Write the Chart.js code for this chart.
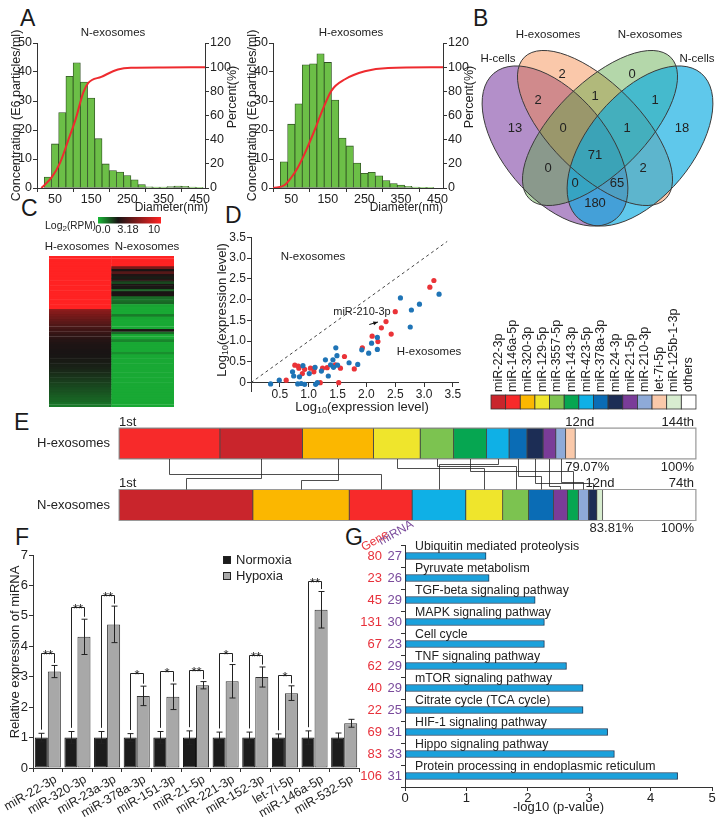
<!DOCTYPE html>
<html><head><meta charset="utf-8">
<script src="https://cdn.jsdelivr.net/npm/chart.js@4.4.1/dist/chart.umd.min.js"></script>
<style>
html,body{margin:0;padding:0;background:#fff;}
#wrap{position:relative;width:724px;height:824px;overflow:hidden;background:#fff;}
#wrap canvas{position:absolute;}
.pl{position:absolute;font-family:"Liberation Sans",Arial,sans-serif;font-size:23px;line-height:24px;color:#1a1a1a;}
</style></head>
<body><div id="wrap">
<div class="pl" style="left:20px;top:6px">A</div>
<div class="pl" style="left:473px;top:6px">B</div>
<div class="pl" style="left:21px;top:196px">C</div>
<div class="pl" style="left:225px;top:203px">D</div>
<div class="pl" style="left:14px;top:410px">E</div>
<div class="pl" style="left:15px;top:525px">F</div>
<div class="pl" style="left:345px;top:525px">G</div>
</div>
<script>
// ================= DATA =================
// A: particle size distribution (bin centres, nm) and concentrations (E6 particles/ml)
const binCenters=[30,50,70,90,110,130,150,170,190,210,230,250,270,290,310,330,350,370,390,410,430,450];
const nConc=[3.8,15.2,26,38.5,43.2,36.5,31,17,8.3,6,5.5,4.3,2.8,1.2,0.4,0.3,0.3,0.5,0.7,0.6,0.3,0.1];
const hConc=[9,22,29,42.5,42.8,46.3,43.3,30.3,17.2,14.5,8.6,5.1,5.4,4.2,2.6,1.5,1.0,0.6,0.3,0.1,0.05,0];
const nCumX=[12,41,64,87,107,128,142,178,224,260,350,465];
const nCumY=[0,9,21,40,57,79,87,92,98,99.5,99.8,100];
const hCumX=[0,32,50,68,86,114,132,160,197,251,315,465];
const hCumY=[0,2.5,8.7,17,28,48,62,80.6,90,96.6,99.4,100];
const diamTicks=[50,150,250,350,450];

// B: Venn
const vennSets=['H-cells','H-exosomes','N-exosomes','N-cells'];
const vennCounts=[13,2,0,18,2,1,1,0,1,71,0,2,0,65,180];

// C: heatmap log2(RPM)
const heatCols=['H-exosomes','N-exosomes'];
const heatH=[10,10,10,10,10,10,10,10,10,10,10,10,10,10,10,10,10,10,10,10,10,
 6.6,6.3,6.0,5.7,5.4,5.1,4.8,4.5,4.3,4.1,3.9,3.7,3.5,
 3.4,3.3,3.3,3.2,3.2,3.15,3.1,3.05,3.0,2.95,2.9,
 2.8,2.7,2.6,2.5,2.4,2.3,2.2,2.1,2.0,1.9,1.8,1.7,1.6,1.4,1.2];
const heatN=[10,10,10,10,6,3.2,5,3.4,3.0,3.6,2.2,3.3,3.1,1.8,3.2,3.3,1.5,1.4,1.6,0.4,
 0.3,0.3,0.3,1.2,0.4,0.3,0.3,0.3,0.3,3.3,1.5,0.3,0.3,1.0,0.3,0.3,0.3,0.3,0.8,0.3,
 0.3,0.3,0.3,0.3,0.3,0.3,0.3,0.3,0.3,0.3,0.3,0.3,0.3,0.3,0.3,0.3,0.3,0.3,0.3,0.3];

// D: scatter log10(expression level)
const dBlueX=[0.34,0.49,0.72,0.74,0.81,0.84,0.87,0.90,0.93,1.01,1.11,1.12,1.15,1.22,1.29,1.34,1.38,1.42,1.43,1.47,1.49,1.50,1.70,1.85,1.92,2.04,2.09,2.19,2.19,2.59,2.78,2.76,2.92,3.26];
const dBlueY=[-0.03,0.06,0.26,0.16,-0.03,0.14,-0.02,0.41,-0.04,0.22,0.37,-0.04,0.0,0.28,0.55,0.16,0.43,0.55,0.37,0.84,0.65,0.42,0.48,0.44,0.79,0.71,0.95,1.09,0.80,2.04,1.75,1.34,1.89,2.13];
const dRedX=[0.61,0.76,0.82,0.83,0.89,0.93,1.03,1.09,1.10,1.20,1.24,1.32,1.46,1.52,1.55,1.62,1.79,1.93,2.10,2.20,2.26,2.34,2.43,2.50,3.10,3.17];
const dRedY=[0.06,0.42,0.40,0.35,0.22,0.32,0.35,0.26,0.35,0.0,0.35,0.36,0.43,0.0,0.35,0.63,0.33,0.84,1.12,0.99,1.32,1.47,1.17,1.71,2.30,2.46];
const dDiag=[0,3.4];
const dTicks=[0,0.5,1,1.5,2,2.5,3,3.5];

// E: top-12 miRNA composition (%)
const mirNames=['miR-22-3p','miR-146a-5p','miR-320-3p','miR-129-5p','miR-3557-5p','miR-143-3p','miR-423-5p','miR-378a-3p','miR-24-3p','miR-21-5p','miR-210-3p','let-7i-5p','miR-125b-1-3p','others'];
const mirColors=['#c9252c','#f72a2a','#fbb700','#efe52c','#7cc350','#06a651','#0fb0e6','#0a6cb5','#1c2d55','#7a3c98','#8eaad8','#fac9aa','#d8edd0','#ffffff'];
const eCats=['H-exosomes','N-exosomes'];
const hOrder=['miR-146a-5p','miR-22-3p','miR-320-3p','miR-129-5p','miR-3557-5p','miR-143-3p','miR-423-5p','miR-378a-3p','miR-24-3p','miR-21-5p','miR-210-3p','let-7i-5p','others'];
const hPct=[17.5,14.3,12.3,8.1,5.8,5.7,3.9,3.1,2.8,2.2,1.7,1.67,20.93];
const nOrder=['miR-22-3p','miR-320-3p','miR-146a-5p','miR-423-5p','miR-129-5p','miR-3557-5p','miR-378a-3p','miR-21-5p','miR-143-3p','miR-210-3p','miR-24-3p','miR-125b-1-3p','others'];
const nPct=[23.2,16.7,10.9,9.3,6.4,4.5,4.3,2.4,1.9,1.8,1.4,1.01,16.19];
const eRankLabels={first:'1st',top:'12nd',hLast:'144th',nLast:'74th'};

// F: qPCR
const fCats=['miR-22-3p','miR-320-3p','miR-23a-3p','miR-378a-3p','miR-151-3p','miR-21-5p','miR-221-3p','miR-152-3p','let-7i-5p','miR-146a-5p','miR-532-5p'];
const fNorm=[1,1,1,1,1,1,1,1,1,1,1];
const fNormErr=[0.14,0.2,0.2,0.13,0.2,0.22,0.18,0.18,0.12,0.22,0.15];
const fHyp=[3.17,4.31,4.72,2.37,2.34,2.72,2.85,2.99,2.46,5.2,1.47];
const fHypErr=[0.2,0.58,0.6,0.32,0.42,0.12,0.55,0.33,0.24,0.6,0.13];
const fSig=['**','**','**','*','*','**','*','**','*','**',''];
const fBracket=[3.77,5.3,5.69,3.11,3.19,3.23,3.77,3.71,3.06,6.16,null];

// G: KEGG
const gPaths=['Ubiquitin mediated proteolysis','Pyruvate metabolism','TGF-beta signaling pathway','MAPK signaling pathway','Cell cycle','TNF signaling pathway','mTOR signaling pathway','Citrate cycle (TCA cycle)','HIF-1 signaling pathway','Hippo signaling pathway','Protein processing in endoplasmic reticulum'];
const gVals=[1.32,1.37,2.12,2.27,2.27,2.63,2.9,2.9,3.3,3.41,4.44];
const gGenes=[80,23,45,131,67,62,40,22,69,83,106];
const gMirnas=[27,26,29,30,23,29,29,25,31,33,31];

// ================= SETUP =================
const FONT='"Liberation Sans", Arial, Helvetica, sans-serif';
Chart.defaults.font.family=FONT; Chart.defaults.font.size=13; Chart.defaults.color='#222';
Chart.defaults.animation=false; Chart.defaults.responsive=false; Chart.defaults.maintainAspectRatio=false;
Chart.defaults.plugins.legend.display=false; Chart.defaults.plugins.tooltip.enabled=false;
Chart.defaults.layout.autoPadding=false; Chart.defaults.events=[];
const wrap=document.getElementById('wrap');
function mk(l,t,w,h){const c=document.createElement('canvas');c.width=w;c.height=h;c.style.left=l+'px';c.style.top=t+'px';c.style.width=w+'px';c.style.height=h+'px';wrap.appendChild(c);return c;}
function drawText(ctx,it){
  ctx.save(); ctx.translate(it.x,it.y); if(it.rot) ctx.rotate(it.rot*Math.PI/180);
  ctx.fillStyle=it.color||'#222'; ctx.textBaseline=it.base||'middle'; ctx.textAlign='left';
  const parts=it.parts||[{t:it.text,size:it.size||13}];
  const fo=p=>(it.style?it.style+' ':'')+(p.size||it.size||13)+'px '+FONT;
  let tot=0; parts.forEach(p=>{ctx.font=fo(p);p.w=ctx.measureText(p.t).width;tot+=p.w;});
  const al=it.align||'center'; let x=al==='center'?-tot/2:al==='right'?-tot:0;
  parts.forEach(p=>{ctx.font=fo(p);ctx.fillText(p.t,x,p.dy||0);x+=p.w;});
  ctx.restore();
}
Chart.register({id:'texts',afterDraw(chart,a,opts){(opts.items||[]).forEach(it=>drawText(chart.ctx,it));}});
const AX='#333';
function fixW(w){return s=>{s.width=w;s.paddingTop=0;s.paddingBottom=0;};}
function fixH(h){return s=>{if(h!=null)s.height=h;s.paddingLeft=0;s.paddingRight=0;};}
function axis(extra,tickExtra,gridExtra){
  return Object.assign({
    border:{display:true,color:AX,width:1},
    grid:Object.assign({display:true,drawOnChartArea:false,drawTicks:true,tickLength:4,color:AX,lineWidth:1},gridExtra||{}),
    ticks:Object.assign({color:'#222',font:{size:13},padding:1,maxRotation:0,autoSkip:false},tickExtra||{})
  },extra);
}

// ================= A =================
function makeHist(cv,conc,cx,cy,rw,texts){
  return new Chart(cv,{type:'bar',
    data:{datasets:[
      {type:'line',data:cx.map((x,i)=>({x,y:cy[i]})),yAxisID:'yP',borderColor:'#ee2b2f',borderWidth:2,pointRadius:0,cubicInterpolationMode:'monotone',order:0},
      {type:'bar',data:binCenters.map((x,i)=>({x,y:conc[i]})),yAxisID:'y',backgroundColor:'#6cbf47',borderColor:'#2f4f22',borderWidth:0.8,borderSkipped:false,barPercentage:1,categoryPercentage:1,order:1}
    ]},
    options:{layout:{padding:{top:21,left:0,right:0,bottom:0}},
      scales:{
        x:axis({type:'linear',min:0,max:465,offset:false,afterBuildTicks:s=>{s.ticks=diamTicks.map(v=>({value:v}));},afterFit:fixH(27)},{padding:0,font:{size:12.5}}),
        y:axis({type:'linear',position:'left',min:0,max:50,afterFit:fixW(37),title:{display:true,text:'Concentration (E6 particles/ml)',color:'#222',font:{size:12.5},padding:{top:9,bottom:0}}},{stepSize:10,font:{size:12.5}}),
        yP:axis({type:'linear',position:'right',min:0,max:120,afterFit:fixW(rw)},{stepSize:20,font:{size:12.5}})
      },
      plugins:{texts:{items:texts}}}
  });
}
makeHist(mk(0,22,250,193),nConc,nCumX,nCumY,45,[
  {text:'N-exosomes',x:113,y:11,size:11.5},{text:'Percent(%)',x:233,y:75,rot:-90,size:12.5},{text:'Diameter(nm)',x:208,y:186,align:'right',size:12}]);
makeHist(mk(236,22,252,193),hConc,hCumX,hCumY,45,[
  {text:'H-exosomes',x:115,y:11,size:11.5},{text:'Percent(%)',x:234,y:75,rot:-90,size:12.5},{text:'Diameter(nm)',x:207,y:186,align:'right',size:12}]);

// ================= B =================
const vennShapes=[{cx:77,cy:131,a:95,b:52,ang:50},{cx:117,cy:113,a:100,b:45,ang:45},{cx:122,cy:113,a:100,b:45,ang:135},{cx:162,cy:131,a:95,b:52,ang:130}];
const vennFill=['rgba(116,51,156,0.55)','rgba(244,133,67,0.45)','rgba(89,167,67,0.45)','rgba(9,171,224,0.65)'];
const vennLabelPos=[[37,113],[84,59],[154,59],[204,113],[60,85],[117,81],[177,85],[85,113],[149,113],[117,140],[70,153],[165,153],[97,168],[139,168],[117,188]];
const vennPlugin={id:'venn',
  beforeDatasetsDraw(chart){const {ctx,scales:{x,y}}=chart;ctx.save();
    vennShapes.forEach((e,i)=>{ctx.beginPath();ctx.ellipse(x.getPixelForValue(e.cx),y.getPixelForValue(e.cy),e.a,e.b,e.ang*Math.PI/180,0,2*Math.PI);ctx.fillStyle=vennFill[i];ctx.fill();});
    ctx.strokeStyle='#3a3a3a';ctx.lineWidth=1;
    vennShapes.forEach(e=>{ctx.beginPath();ctx.ellipse(x.getPixelForValue(e.cx),y.getPixelForValue(e.cy),e.a,e.b,e.ang*Math.PI/180,0,2*Math.PI);ctx.stroke();});
    ctx.restore();},
  afterDatasetsDraw(chart){const ctx=chart.ctx;const m=chart.getDatasetMeta(0);
    m.data.forEach((p,i)=>drawText(ctx,{text:String(vennCounts[i]),x:p.x,y:p.y,size:13}));}
};
new Chart(mk(478,15,244,215),{type:'scatter',
  data:{datasets:[{data:vennLabelPos.map(p=>({x:p[0],y:p[1]})),pointRadius:0}]},
  options:{layout:{padding:0},scales:{x:{display:false,min:0,max:244},y:{display:false,min:0,max:215,reverse:true}},
    plugins:{texts:{items:[{text:vennSets[1],x:70,y:20,size:11.5},{text:vennSets[2],x:172,y:20,size:11.5},{text:vennSets[0],x:20,y:44,size:11.5},{text:vennSets[3],x:219,y:44,size:11.5}]}}},
  plugins:[vennPlugin]});

// ================= C =================
function heatColor(v){const G=[25,185,55],K=[25,20,20],R=[255,35,35];let a,b,t;
  if(v<=3.18){a=G;b=K;t=v/3.18;}else{a=K;b=R;t=Math.min(1,(v-3.18)/(10-3.18));}
  const c=a.map((q,i)=>Math.round(q+(b[i]-q)*t));return 'rgb('+c.join(',')+')';}
const heatLegend={id:'heatLegend',afterDraw(chart){const ctx=chart.ctx;
  const g=ctx.createLinearGradient(98,0,161,0);g.addColorStop(0,heatColor(0));g.addColorStop(0.318,heatColor(3.18));g.addColorStop(1,heatColor(10));
  ctx.save();ctx.fillStyle=g;ctx.fillRect(98,17,63,6.5);ctx.restore();}};
new Chart(mk(0,200,240,215),{type:'bar',
  data:{labels:heatCols,datasets:heatH.map((hv,i)=>{const cols=[heatColor(hv),heatColor(heatN[i])];
    return {data:[[i,i+1],[i,i+1]],backgroundColor:cols,borderColor:cols,borderWidth:0.7,borderSkipped:false,barPercentage:1,categoryPercentage:1,grouped:false};})},
  options:{layout:{padding:{left:49,right:66,top:56,bottom:8}},scales:{x:{display:false},y:{display:false,min:0,max:heatH.length,reverse:true}},
    plugins:{texts:{items:[
      {text:heatCols[0],x:77,y:47,size:11.5},{text:heatCols[1],x:147,y:47,size:11.5},
      {parts:[{t:'Log',size:10.5},{t:'2',size:8,dy:3},{t:'(RPM)',size:10}],x:45,y:26,align:'left'},
      {text:'0.0',x:103,y:30,size:11},{text:'3.18',x:128,y:30,size:11},{text:'10',x:154,y:30,size:11}]}}},
  plugins:[heatLegend]});

// ================= D =================
const dArrow={from:[2.05,1.40],to:[2.2,1.46]};
const dPlugin={id:'dArrow',afterDatasetsDraw(chart){const {ctx,scales:{x,y}}=chart;
  const x0=x.getPixelForValue(dArrow.from[0]),y0=y.getPixelForValue(dArrow.from[1]),x1=x.getPixelForValue(dArrow.to[0]),y1=y.getPixelForValue(dArrow.to[1]);
  const an=Math.atan2(y1-y0,x1-x0);ctx.save();ctx.strokeStyle='#111';ctx.fillStyle='#111';ctx.lineWidth=1;
  ctx.beginPath();ctx.moveTo(x0,y0);ctx.lineTo(x1,y1);ctx.stroke();
  ctx.beginPath();ctx.moveTo(x1,y1);ctx.lineTo(x1-5*Math.cos(an-0.4),y1-5*Math.sin(an-0.4));ctx.lineTo(x1-5*Math.cos(an+0.4),y1-5*Math.sin(an+0.4));ctx.closePath();ctx.fill();ctx.restore();}};
const logParts=[{t:'Log',size:13},{t:'10',size:9,dy:4},{t:'(expression level)',size:13}];
new Chart(mk(215,225,255,195),{type:'scatter',
  data:{datasets:[
    {data:dBlueX.map((x,i)=>({x,y:dBlueY[i]})),backgroundColor:'#1f74b6',borderWidth:0,pointRadius:2.6},
    {data:dRedX.map((x,i)=>({x,y:dRedY[i]})),backgroundColor:'#ea3338',borderWidth:0,pointRadius:2.6},
    {type:'line',data:dDiag.map(v=>({x:v,y:v})),borderColor:'#444',borderWidth:1,borderDash:[3,3],pointRadius:0}]},
  options:{layout:{padding:{top:12.3,right:11.3,bottom:28.2,left:0}},
    scales:{
      x:axis({type:'linear',position:{y:0},min:0,max:3.6,afterBuildTicks:s=>{s.ticks=dTicks.slice(1).map(v=>({value:v}));},afterFit:fixH(null)},{padding:1,font:{size:12}}),
      y:axis({type:'linear',min:-0.22,max:3.5,afterBuildTicks:s=>{s.ticks=dTicks.map(v=>({value:v}));},afterFit:fixW(36)},{padding:1,font:{size:12}})},
    plugins:{texts:{items:[
      {parts:logParts,x:7,y:85,rot:-90},{parts:logParts,x:147,y:182},
      {text:'N-exosomes',x:98,y:32,size:11.5},{text:'H-exosomes',x:214,y:127,size:11.5},{text:'miR-210-3p',x:147,y:87,size:11}]}}},
  plugins:[dPlugin]});

// ================= E =================
function ranges(order,pct){let s=0;const m={};order.forEach((n,i)=>{m[n]=[s,s+pct[i]];s+=pct[i];});return m;}
const hR=ranges(hOrder,hPct),nR=ranges(nOrder,nPct);
const eLinkLevels=[0.48,0.62,0.7,0.3,0.22,0.4,0.15,0.55,0.8,0.88,0.75];
const E_TH=31;
const eDeco={id:'eDeco',afterDatasetsDraw(chart){
  const {ctx,scales:{x,y}}=chart;const X=v=>x.getPixelForValue(v);
  const hc=y.getPixelForValue(0),nc=y.getPixelForValue(1);
  const hTop=hc-E_TH/2,hBot=hc+E_TH/2,nTop=nc-E_TH/2,nBot=nc+E_TH/2;
  ctx.save();ctx.strokeStyle='#9a9a9a';ctx.lineWidth=1;
  ctx.strokeRect(X(0),hTop,X(100)-X(0),E_TH);ctx.strokeRect(X(0),nTop,X(100)-X(0),E_TH);
  ctx.strokeStyle='#222';ctx.lineWidth=0.8;let k=0;
  hOrder.forEach(n=>{if(n==='others'||!nR[n])return;
    const xh=Math.round(X((hR[n][0]+hR[n][1])/2))+0.5,xn=Math.round(X((nR[n][0]+nR[n][1])/2))+0.5;
    const ym=Math.round(hBot+(nTop-hBot)*eLinkLevels[k++])+0.5;
    ctx.beginPath();ctx.moveTo(xh,hBot);ctx.lineTo(xh,ym);ctx.lineTo(xn,ym);ctx.lineTo(xn,nTop);ctx.stroke();});
  const hEnd=hR['others'][0],nEnd=nR['others'][0];
  [[eRankLabels.first,X(0),hTop-6,'left'],[eRankLabels.top,X(hEnd)-10,hTop-6,'left'],[eRankLabels.hLast,X(100)-2,hTop-6,'right'],
   [hEnd.toFixed(2)+'%',X(hEnd)-10,hBot+8,'left'],['100%',X(100)-2,hBot+8,'right'],
   [eRankLabels.first,X(0),nTop-6,'left'],[eRankLabels.top,X(nEnd)-17,nTop-6,'left'],[eRankLabels.nLast,X(100)-2,nTop-6,'right'],
   [nEnd.toFixed(2)+'%',X(nEnd)-13,nBot+8,'left'],['100%',X(100)-2,nBot+8,'right']
  ].forEach(t=>drawText(ctx,{text:t[0],x:t[1],y:t[2],align:t[3],size:13}));
  const lx=491,lw=14.64,ly=95,lh=14;
  mirNames.forEach((n,i)=>{ctx.fillStyle=mirColors[i];ctx.fillRect(lx+i*lw,ly,lw,lh);
    ctx.strokeStyle='#333';ctx.lineWidth=0.8;ctx.strokeRect(lx+i*lw,ly,lw,lh);
    drawText(ctx,{text:n,x:lx+(i+0.5)*lw,y:ly-3,rot:-90,align:'left',size:12.5});});
  ctx.restore();}};
new Chart(mk(0,300,724,250),{type:'bar',
  data:{labels:eCats,datasets:mirNames.map((n,i)=>({label:n,data:[hR[n]||null,nR[n]||null],backgroundColor:mirColors[i],
    borderColor:n==='others'?'#9a9a9a':'rgba(20,20,20,0.75)',borderWidth:0.8,borderSkipped:false,barThickness:E_TH,grouped:false}))},
  options:{indexAxis:'y',layout:{padding:{top:112.75,bottom:14.25,right:28,left:0}},
    scales:{x:{display:false,min:0,max:100},
      y:{type:'category',afterFit:fixW(119),border:{display:false},grid:{display:false,drawTicks:false},ticks:{color:'#222',font:{size:13},padding:9}}}},
  plugins:[eDeco]});

// ================= F =================
const fDeco={id:'fDeco',afterDatasetsDraw(chart){
  const {ctx,scales:{y}}=chart;const m0=chart.getDatasetMeta(0),m1=chart.getDatasetMeta(1);
  ctx.save();ctx.strokeStyle='#222';ctx.lineWidth=1;
  const L=(a,b,c,d)=>{ctx.beginPath();ctx.moveTo(a,b);ctx.lineTo(c,d);ctx.stroke();};
  fCats.forEach((c,i)=>{
    [[m0,fNorm,fNormErr],[m1,fHyp,fHypErr]].forEach(([m,v,e])=>{const bx=Math.round(m.data[i].x)+0.5;
      const yt=y.getPixelForValue(v[i]+e[i]),yb=y.getPixelForValue(v[i]-e[i]);L(bx,yt,bx,yb);L(bx-3,yt,bx+3,yt);L(bx-3,yb,bx+3,yb);});
    if(fBracket[i]!=null){const x0=Math.round(m0.data[i].x)+0.5,x1=Math.round(m1.data[i].x)+0.5,yb=Math.round(y.getPixelForValue(fBracket[i]))+0.5;
      const y0=y.getPixelForValue(fNorm[i]+fNormErr[i]+0.12),y1=y.getPixelForValue(fHyp[i]+fHypErr[i]+0.08);
      ctx.beginPath();ctx.moveTo(x0,y0);ctx.lineTo(x0,yb);ctx.lineTo(x1,yb);ctx.lineTo(x1,y1);ctx.stroke();
      drawText(ctx,{text:fSig[i],x:(x0+x1)/2,y:yb+5,base:'alphabetic',size:13});}
  });
  chart.data.datasets.forEach((d,i)=>{const yy=21+i*16;ctx.fillStyle=d.backgroundColor;ctx.fillRect(223,yy,8,8);ctx.strokeStyle='#222';ctx.strokeRect(223.5,yy+0.5,7,7);
    drawText(ctx,{text:d.label,x:236,y:yy+4,align:'left',size:13});});
  ctx.restore();}};
new Chart(mk(0,535,365,289),{type:'bar',
  data:{labels:fCats,datasets:[
    {label:'Normoxia',data:fNorm,backgroundColor:'#1c1c1c',borderColor:'#111',borderWidth:1,borderSkipped:false},
    {label:'Hypoxia',data:fHyp,backgroundColor:'#a8a8a8',borderColor:'#333',borderWidth:1,borderSkipped:false}]},
  options:{datasets:{bar:{categoryPercentage:0.88,barPercentage:1}},layout:{padding:{top:20,right:6,left:0,bottom:0}},
    scales:{x:axis({type:'category',afterFit:fixH(56)},{font:{size:12.5},maxRotation:30,minRotation:30,padding:0,labelOffset:8},{offset:true}),
      y:axis({type:'linear',min:0,max:7,afterFit:fixW(33)},{stepSize:1})},
    plugins:{texts:{items:[{text:'Relative expression of miRNA',x:15,y:117,rot:-90}]}}},
  plugins:[fDeco]});

// ================= G =================
const gDeco={id:'gDeco',afterDatasetsDraw(chart){const {ctx,scales:{x,y}}=chart;
  gPaths.forEach((p,i)=>{const yc=y.getPixelForValue(i);
    drawText(ctx,{text:p,x:x.getPixelForValue(0)+10,y:yc-6.5,align:'left',base:'alphabetic',size:12.3});
    drawText(ctx,{text:String(gGenes[i]),x:42,y:yc,align:'right',color:'#e8303a',size:13});
    drawText(ctx,{text:String(gMirnas[i]),x:62,y:yc,align:'right',color:'#7a4b9c',size:13});});}};
new Chart(mk(340,520,384,304),{type:'bar',
  data:{labels:gPaths,datasets:[{data:gVals,backgroundColor:'#1aa1dc',borderColor:'#1b3b5a',borderWidth:1,borderSkipped:false,barThickness:7}]},
  options:{indexAxis:'y',layout:{padding:{top:25,right:12,left:0,bottom:0}},
    scales:{x:axis({type:'linear',min:0,max:5,afterFit:fixH(37),title:{display:true,text:'-log10 (p-value)',color:'#222',font:{size:13},padding:{top:0,bottom:9}}},{stepSize:1,padding:0}),
      y:axis({type:'category',afterFit:fixW(65)},{display:false},{offset:true})},
    plugins:{texts:{items:[{text:'Gene',x:35,y:21,rot:-30,color:'#e8303a',size:12},{text:'miRNA',x:56,y:13,rot:-30,color:'#7a4b9c',size:12}]}}},
  plugins:[gDeco]});
</script></body></html>
